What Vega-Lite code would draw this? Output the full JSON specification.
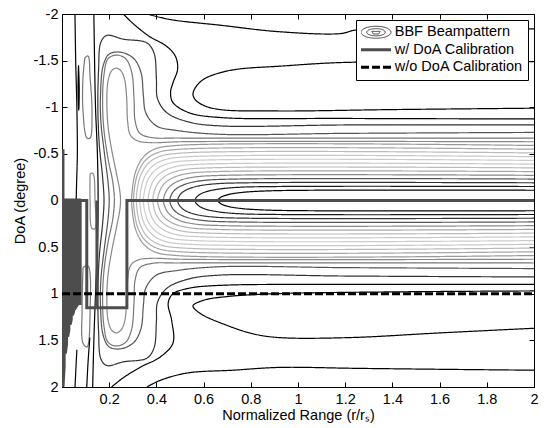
{
"$schema": "https://vega.github.io/schema/vega-lite/v6.json",
"width": 472, "height": 373,
"autosize": {"type": "none"},
"padding": {"left": 62, "top": 14, "right": 11, "bottom": 41},
"background": "white",
"config": {
 "view": {"stroke": "black", "strokeWidth": 1},
 "font": "Liberation Sans",
 "axis": {"labelFont": "Liberation Sans", "labelFontSize": 14.5, "labelColor": "black", "titleFont": "Liberation Sans", "titleFontSize": 14.5, "titleFontWeight": "normal", "titleColor": "black", "domainColor": "black", "tickColor": "black", "grid": false, "labelFlush": false, "labelOverlap": false}
},
"datasets": {
 "contours": [
{"c":"U1","x":2,"y":-0.11},{"c":"U1","x":1.06,"y":-0.11},{"c":"U1","x":0.86,"y":-0.102},{"c":"U1","x":0.76,"y":-0.086},{"c":"U1","x":0.7,"y":-0.061},{"c":"U1","x":0.672,"y":-0.033},{"c":"U1","x":0.66,"y":0},{"c":"U1","x":0.672,"y":0.033},{"c":"U1","x":0.7,"y":0.061},{"c":"U1","x":0.76,"y":0.086},{"c":"U1","x":0.86,"y":0.102},{"c":"U1","x":1.06,"y":0.11},{"c":"U1","x":2,"y":0.11},
{"c":"U2","x":2,"y":-0.15},{"c":"U2","x":0.913,"y":-0.15},{"c":"U2","x":0.738,"y":-0.14},{"c":"U2","x":0.651,"y":-0.117},{"c":"U2","x":0.598,"y":-0.083},{"c":"U2","x":0.574,"y":-0.045},{"c":"U2","x":0.563,"y":0},{"c":"U2","x":0.574,"y":0.045},{"c":"U2","x":0.598,"y":0.083},{"c":"U2","x":0.651,"y":0.117},{"c":"U2","x":0.738,"y":0.14},{"c":"U2","x":0.913,"y":0.15},{"c":"U2","x":2,"y":0.15},
{"c":"U3","x":2,"y":-0.19},{"c":"U3","x":0.79,"y":-0.19},{"c":"U3","x":0.64,"y":-0.177},{"c":"U3","x":0.565,"y":-0.148},{"c":"U3","x":0.52,"y":-0.105},{"c":"U3","x":0.499,"y":-0.057},{"c":"U3","x":0.49,"y":0},{"c":"U3","x":0.499,"y":0.057},{"c":"U3","x":0.52,"y":0.105},{"c":"U3","x":0.565,"y":0.148},{"c":"U3","x":0.64,"y":0.177},{"c":"U3","x":0.79,"y":0.19},{"c":"U3","x":2,"y":0.19},
{"c":"U4","x":2,"y":-0.23},{"c":"U4","x":0.737,"y":-0.23},{"c":"U4","x":0.597,"y":-0.214},{"c":"U4","x":0.527,"y":-0.179},{"c":"U4","x":0.485,"y":-0.127},{"c":"U4","x":0.465,"y":-0.069},{"c":"U4","x":0.457,"y":0},{"c":"U4","x":0.465,"y":0.069},{"c":"U4","x":0.485,"y":0.127},{"c":"U4","x":0.527,"y":0.179},{"c":"U4","x":0.597,"y":0.214},{"c":"U4","x":0.737,"y":0.23},{"c":"U4","x":2,"y":0.23},
{"c":"U5","x":2,"y":-0.27},{"c":"U5","x":0.69,"y":-0.27},{"c":"U5","x":0.56,"y":-0.251},{"c":"U5","x":0.495,"y":-0.211},{"c":"U5","x":0.456,"y":-0.149},{"c":"U5","x":0.438,"y":-0.081},{"c":"U5","x":0.43,"y":0},{"c":"U5","x":0.438,"y":0.081},{"c":"U5","x":0.456,"y":0.149},{"c":"U5","x":0.495,"y":0.211},{"c":"U5","x":0.56,"y":0.251},{"c":"U5","x":0.69,"y":0.27},{"c":"U5","x":2,"y":0.27},
{"c":"U6","x":2,"y":-0.31},{"c":"U6","x":0.655,"y":-0.31},{"c":"U6","x":0.53,"y":-0.288},{"c":"U6","x":0.468,"y":-0.242},{"c":"U6","x":0.43,"y":-0.171},{"c":"U6","x":0.413,"y":-0.093},{"c":"U6","x":0.405,"y":0},{"c":"U6","x":0.413,"y":0.093},{"c":"U6","x":0.43,"y":0.171},{"c":"U6","x":0.468,"y":0.242},{"c":"U6","x":0.53,"y":0.288},{"c":"U6","x":0.655,"y":0.31},{"c":"U6","x":2,"y":0.31},
{"c":"U7","x":2,"y":-0.35},{"c":"U7","x":0.625,"y":-0.35},{"c":"U7","x":0.505,"y":-0.326},{"c":"U7","x":0.445,"y":-0.273},{"c":"U7","x":0.409,"y":-0.193},{"c":"U7","x":0.392,"y":-0.105},{"c":"U7","x":0.385,"y":0},{"c":"U7","x":0.392,"y":0.105},{"c":"U7","x":0.409,"y":0.193},{"c":"U7","x":0.445,"y":0.273},{"c":"U7","x":0.505,"y":0.326},{"c":"U7","x":0.625,"y":0.35},{"c":"U7","x":2,"y":0.35},
{"c":"U8","x":2,"y":-0.39},{"c":"U8","x":0.595,"y":-0.39},{"c":"U8","x":0.48,"y":-0.363},{"c":"U8","x":0.423,"y":-0.304},{"c":"U8","x":0.388,"y":-0.215},{"c":"U8","x":0.372,"y":-0.117},{"c":"U8","x":0.365,"y":0},{"c":"U8","x":0.372,"y":0.117},{"c":"U8","x":0.388,"y":0.215},{"c":"U8","x":0.423,"y":0.304},{"c":"U8","x":0.48,"y":0.363},{"c":"U8","x":0.595,"y":0.39},{"c":"U8","x":2,"y":0.39},
{"c":"U9","x":2,"y":-0.43},{"c":"U9","x":0.565,"y":-0.43},{"c":"U9","x":0.455,"y":-0.4},{"c":"U9","x":0.4,"y":-0.335},{"c":"U9","x":0.367,"y":-0.237},{"c":"U9","x":0.352,"y":-0.129},{"c":"U9","x":0.345,"y":0},{"c":"U9","x":0.352,"y":0.129},{"c":"U9","x":0.367,"y":0.237},{"c":"U9","x":0.4,"y":0.335},{"c":"U9","x":0.455,"y":0.4},{"c":"U9","x":0.565,"y":0.43},{"c":"U9","x":2,"y":0.43},
{"c":"U10","x":2,"y":-0.47},{"c":"U10","x":0.54,"y":-0.47},{"c":"U10","x":0.435,"y":-0.437},{"c":"U10","x":0.383,"y":-0.367},{"c":"U10","x":0.351,"y":-0.259},{"c":"U10","x":0.336,"y":-0.141},{"c":"U10","x":0.33,"y":0},{"c":"U10","x":0.336,"y":0.141},{"c":"U10","x":0.351,"y":0.259},{"c":"U10","x":0.383,"y":0.367},{"c":"U10","x":0.435,"y":0.437},{"c":"U10","x":0.54,"y":0.47},{"c":"U10","x":2,"y":0.47},
{"c":"U11","x":2,"y":-0.51},{"c":"U11","x":0.515,"y":-0.51},{"c":"U11","x":0.415,"y":-0.474},{"c":"U11","x":0.365,"y":-0.398},{"c":"U11","x":0.335,"y":-0.281},{"c":"U11","x":0.321,"y":-0.153},{"c":"U11","x":0.315,"y":0},{"c":"U11","x":0.321,"y":0.153},{"c":"U11","x":0.335,"y":0.281},{"c":"U11","x":0.365,"y":0.398},{"c":"U11","x":0.415,"y":0.474},{"c":"U11","x":0.515,"y":0.51},{"c":"U11","x":2,"y":0.51},
{"c":"U12","x":2,"y":-0.55},{"c":"U12","x":0.503,"y":-0.55},{"c":"U12","x":0.403,"y":-0.512},{"c":"U12","x":0.353,"y":-0.429},{"c":"U12","x":0.323,"y":-0.303},{"c":"U12","x":0.309,"y":-0.165},{"c":"U12","x":0.303,"y":0},{"c":"U12","x":0.309,"y":0.165},{"c":"U12","x":0.323,"y":0.303},{"c":"U12","x":0.353,"y":0.429},{"c":"U12","x":0.403,"y":0.512},{"c":"U12","x":0.503,"y":0.55},{"c":"U12","x":2,"y":0.55},
{"c":"U13","x":2,"y":-0.59},{"c":"U13","x":0.485,"y":-0.59},{"c":"U13","x":0.39,"y":-0.549},{"c":"U13","x":0.343,"y":-0.46},{"c":"U13","x":0.314,"y":-0.325},{"c":"U13","x":0.301,"y":-0.177},{"c":"U13","x":0.295,"y":0},{"c":"U13","x":0.301,"y":0.177},{"c":"U13","x":0.314,"y":0.325},{"c":"U13","x":0.343,"y":0.46},{"c":"U13","x":0.39,"y":0.549},{"c":"U13","x":0.485,"y":0.59},{"c":"U13","x":2,"y":0.59},
{"c":"Ca","x":2,"y":-0.63},{"c":"Ca","x":0.5,"y":-0.63},{"c":"Ca","x":0.38,"y":-0.62},{"c":"Ca","x":0.32,"y":-0.64},{"c":"Ca","x":0.29,"y":-0.7},{"c":"Ca","x":0.278,"y":-0.85},{"c":"Ca","x":0.274,"y":-1.1},{"c":"Ca","x":0.265,"y":-1.3},{"c":"Ca","x":0.25,"y":-1.39},{"c":"Ca","x":0.23,"y":-1.42},{"c":"Ca","x":0.21,"y":-1.39},{"c":"Ca","x":0.195,"y":-1.28},{"c":"Ca","x":0.19,"y":-1.05},{"c":"Ca","x":0.195,"y":-0.8},{"c":"Ca","x":0.21,"y":-0.55},{"c":"Ca","x":0.23,"y":-0.3},{"c":"Ca","x":0.245,"y":-0.1},{"c":"Ca","x":0.248,"y":0},{"c":"Ca","x":0.245,"y":0.1},{"c":"Ca","x":0.23,"y":0.3},{"c":"Ca","x":0.21,"y":0.55},{"c":"Ca","x":0.195,"y":0.8},{"c":"Ca","x":0.19,"y":1.05},{"c":"Ca","x":0.195,"y":1.28},{"c":"Ca","x":0.21,"y":1.39},{"c":"Ca","x":0.23,"y":1.42},{"c":"Ca","x":0.25,"y":1.39},{"c":"Ca","x":0.265,"y":1.3},{"c":"Ca","x":0.274,"y":1.1},{"c":"Ca","x":0.278,"y":0.85},{"c":"Ca","x":0.29,"y":0.7},{"c":"Ca","x":0.32,"y":0.64},{"c":"Ca","x":0.38,"y":0.62},{"c":"Ca","x":0.5,"y":0.63},{"c":"Ca","x":2,"y":0.63},
{"c":"Cb","x":2,"y":-0.67},{"c":"Cb","x":0.5,"y":-0.67},{"c":"Cb","x":0.38,"y":-0.675},{"c":"Cb","x":0.33,"y":-0.72},{"c":"Cb","x":0.31,"y":-0.85},{"c":"Cb","x":0.305,"y":-1.1},{"c":"Cb","x":0.295,"y":-1.38},{"c":"Cb","x":0.27,"y":-1.52},{"c":"Cb","x":0.23,"y":-1.56},{"c":"Cb","x":0.195,"y":-1.52},{"c":"Cb","x":0.178,"y":-1.35},{"c":"Cb","x":0.172,"y":-1.05},{"c":"Cb","x":0.178,"y":-0.75},{"c":"Cb","x":0.195,"y":-0.45},{"c":"Cb","x":0.215,"y":-0.2},{"c":"Cb","x":0.222,"y":0},{"c":"Cb","x":0.215,"y":0.2},{"c":"Cb","x":0.195,"y":0.45},{"c":"Cb","x":0.178,"y":0.75},{"c":"Cb","x":0.172,"y":1.05},{"c":"Cb","x":0.178,"y":1.35},{"c":"Cb","x":0.195,"y":1.52},{"c":"Cb","x":0.23,"y":1.56},{"c":"Cb","x":0.27,"y":1.52},{"c":"Cb","x":0.295,"y":1.38},{"c":"Cb","x":0.305,"y":1.1},{"c":"Cb","x":0.31,"y":0.85},{"c":"Cb","x":0.33,"y":0.72},{"c":"Cb","x":0.38,"y":0.675},{"c":"Cb","x":0.5,"y":0.67},{"c":"Cb","x":2,"y":0.67},
{"c":"Cc","x":2,"y":-0.73},{"c":"Cc","x":1.2,"y":-0.72},{"c":"Cc","x":0.67,"y":-0.71},{"c":"Cc","x":0.49,"y":-0.75},{"c":"Cc","x":0.4,"y":-0.8},{"c":"Cc","x":0.355,"y":-0.94},{"c":"Cc","x":0.345,"y":-1.12},{"c":"Cc","x":0.335,"y":-1.37},{"c":"Cc","x":0.305,"y":-1.52},{"c":"Cc","x":0.25,"y":-1.59},{"c":"Cc","x":0.2,"y":-1.57},{"c":"Cc","x":0.175,"y":-1.45},{"c":"Cc","x":0.163,"y":-1.12},{"c":"Cc","x":0.165,"y":-0.84},{"c":"Cc","x":0.18,"y":-0.5},{"c":"Cc","x":0.195,"y":-0.2},{"c":"Cc","x":0.2,"y":0},{"c":"Cc","x":0.195,"y":0.2},{"c":"Cc","x":0.18,"y":0.5},{"c":"Cc","x":0.165,"y":0.84},{"c":"Cc","x":0.163,"y":1.12},{"c":"Cc","x":0.175,"y":1.45},{"c":"Cc","x":0.2,"y":1.57},{"c":"Cc","x":0.25,"y":1.59},{"c":"Cc","x":0.305,"y":1.52},{"c":"Cc","x":0.335,"y":1.37},{"c":"Cc","x":0.345,"y":1.12},{"c":"Cc","x":0.355,"y":0.94},{"c":"Cc","x":0.4,"y":0.8},{"c":"Cc","x":0.49,"y":0.75},{"c":"Cc","x":0.67,"y":0.71},{"c":"Cc","x":1.2,"y":0.72},{"c":"Cc","x":2,"y":0.73},
{"c":"Cd","x":2,"y":-0.81},{"c":"Cd","x":1.2,"y":-0.81},{"c":"Cd","x":0.67,"y":-0.8},{"c":"Cd","x":0.54,"y":-0.84},{"c":"Cd","x":0.445,"y":-0.94},{"c":"Cd","x":0.405,"y":-1.09},{"c":"Cd","x":0.4,"y":-1.3},{"c":"Cd","x":0.39,"y":-1.58},{"c":"Cd","x":0.36,"y":-1.69},{"c":"Cd","x":0.26,"y":-1.73},{"c":"Cd","x":0.19,"y":-1.77},{"c":"Cd","x":0.165,"y":-1.7},{"c":"Cd","x":0.155,"y":-1.4},{"c":"Cd","x":0.152,"y":-1.0},{"c":"Cd","x":0.158,"y":-0.6},{"c":"Cd","x":0.172,"y":-0.25},{"c":"Cd","x":0.178,"y":0},{"c":"Cd","x":0.172,"y":0.25},{"c":"Cd","x":0.158,"y":0.6},{"c":"Cd","x":0.152,"y":1.0},{"c":"Cd","x":0.155,"y":1.4},{"c":"Cd","x":0.165,"y":1.7},{"c":"Cd","x":0.19,"y":1.77},{"c":"Cd","x":0.26,"y":1.73},{"c":"Cd","x":0.36,"y":1.69},{"c":"Cd","x":0.39,"y":1.58},{"c":"Cd","x":0.4,"y":1.3},{"c":"Cd","x":0.405,"y":1.09},{"c":"Cd","x":0.445,"y":0.94},{"c":"Cd","x":0.54,"y":0.84},{"c":"Cd","x":0.67,"y":0.8},{"c":"Cd","x":1.2,"y":0.81},{"c":"Cd","x":2,"y":0.82},
{"c":"G","x":0.26,"y":-2},{"c":"G","x":0.3,"y":-1.9},{"c":"G","x":0.37,"y":-1.76},{"c":"G","x":0.44,"y":-1.66},{"c":"G","x":0.48,"y":-1.55},{"c":"G","x":0.49,"y":-1.41},{"c":"G","x":0.47,"y":-1.26},{"c":"G","x":0.46,"y":-1.16},{"c":"G","x":0.47,"y":-1.05},{"c":"G","x":0.54,"y":-0.94},{"c":"G","x":0.67,"y":-0.89},{"c":"G","x":1.2,"y":-0.88},{"c":"G","x":2,"y":-0.875},
{"c":"Gp","x":2,"y":0.9},{"c":"Gp","x":1.2,"y":0.9},{"c":"Gp","x":0.67,"y":0.91},{"c":"Gp","x":0.54,"y":0.94},{"c":"Gp","x":0.47,"y":1.0},{"c":"Gp","x":0.45,"y":1.1},{"c":"Gp","x":0.465,"y":1.29},{"c":"Gp","x":0.47,"y":1.53},{"c":"Gp","x":0.415,"y":1.68},{"c":"Gp","x":0.33,"y":1.79},{"c":"Gp","x":0.26,"y":1.9},{"c":"Gp","x":0.21,"y":2},
{"c":"S","x":2,"y":-1.49},{"c":"S","x":1.19,"y":-1.48},{"c":"S","x":0.92,"y":-1.44},{"c":"S","x":0.75,"y":-1.41},{"c":"S","x":0.67,"y":-1.37},{"c":"S","x":0.6,"y":-1.3},{"c":"S","x":0.565,"y":-1.21},{"c":"S","x":0.555,"y":-1.14},{"c":"S","x":0.565,"y":-1.08},{"c":"S","x":0.6,"y":-1.02},{"c":"S","x":0.67,"y":-0.975},{"c":"S","x":0.92,"y":-0.96},{"c":"S","x":1.4,"y":-0.975},{"c":"S","x":2,"y":-0.99},
{"c":"Sp","x":2,"y":0.97},{"c":"Sp","x":1.4,"y":0.98},{"c":"Sp","x":0.9,"y":1.0},{"c":"Sp","x":0.7,"y":1.03},{"c":"Sp","x":0.6,"y":1.07},{"c":"Sp","x":0.555,"y":1.13},{"c":"Sp","x":0.585,"y":1.21},{"c":"Sp","x":0.7,"y":1.34},{"c":"Sp","x":0.81,"y":1.43},{"c":"Sp","x":0.92,"y":1.47},{"c":"Sp","x":1.22,"y":1.47},{"c":"Sp","x":1.6,"y":1.42},{"c":"Sp","x":2,"y":1.37},
{"c":"D","x":0.36,"y":-2},{"c":"D","x":0.46,"y":-1.94},{"c":"D","x":0.67,"y":-1.88},{"c":"D","x":0.92,"y":-1.81},{"c":"D","x":1.18,"y":-1.79},{"c":"D","x":1.25,"y":-1.83},{"c":"D","x":2,"y":-1.84},
{"c":"Dp","x":0.36,"y":2},{"c":"Dp","x":0.415,"y":1.93},{"c":"Dp","x":0.53,"y":1.85},{"c":"Dp","x":0.725,"y":1.82},{"c":"Dp","x":0.92,"y":1.79},{"c":"Dp","x":1.25,"y":1.8},{"c":"Dp","x":1.6,"y":1.81},{"c":"Dp","x":2,"y":1.82},
{"c":"V0","x":0.055,"y":-2},{"c":"V0","x":0.058,"y":-1.5},{"c":"V0","x":0.063,"y":-1.0},{"c":"V0","x":0.065,"y":-0.5},{"c":"V0","x":0.062,"y":-0.2},{"c":"V0","x":0.06,"y":0},
{"c":"L0","x":0.07,"y":-1.45},{"c":"L0","x":0.073,"y":-1.2},{"c":"L0","x":0.071,"y":-0.97},{"c":"L0","x":0.068,"y":-1.2},{"c":"L0","x":0.07,"y":-1.45},
{"c":"E1","x":0.097,"y":-1.53},{"c":"E1","x":0.11,"y":-1.55},{"c":"E1","x":0.119,"y":-1.32},{"c":"E1","x":0.127,"y":-0.96},{"c":"E1","x":0.119,"y":-0.67},{"c":"E1","x":0.106,"y":-0.67},{"c":"E1","x":0.089,"y":-0.96},{"c":"E1","x":0.089,"y":-1.32},{"c":"E1","x":0.097,"y":-1.53},
{"c":"E2","x":0.089,"y":0.72},{"c":"E2","x":0.11,"y":0.7},{"c":"E2","x":0.119,"y":1.18},{"c":"E2","x":0.106,"y":1.57},{"c":"E2","x":0.089,"y":1.53},{"c":"E2","x":0.085,"y":1.18},{"c":"E2","x":0.089,"y":0.72},
{"c":"E0","x":0.119,"y":-0.29},{"c":"E0","x":0.131,"y":-0.29},{"c":"E0","x":0.14,"y":0},{"c":"E0","x":0.14,"y":0.3},{"c":"E0","x":0.127,"y":0.3},{"c":"E0","x":0.119,"y":0},{"c":"E0","x":0.119,"y":-0.29},
{"c":"V1","x":0.135,"y":-2},{"c":"V1","x":0.138,"y":-1.5},{"c":"V1","x":0.142,"y":-1.0},{"c":"V1","x":0.15,"y":-0.5},{"c":"V1","x":0.153,"y":0},{"c":"V1","x":0.15,"y":0.5},{"c":"V1","x":0.142,"y":1.0},{"c":"V1","x":0.135,"y":1.5},{"c":"V1","x":0.13,"y":2},
{"c":"B1","x":0.063,"y":1.6},{"c":"B1","x":0.055,"y":2},
{"c":"B2","x":0.118,"y":1.47},{"c":"B2","x":0.11,"y":1.75},{"c":"B2","x":0.105,"y":2}
 ],
 "calblock": [
{"x":0.002,"y":-0.55},{"x":0.002,"y":2},{"x":0.007,"y":1.78},{"x":0.007,"y":0},{"x":0.012,"y":0},{"x":0.012,"y":1.64},{"x":0.017,"y":1.54},{"x":0.017,"y":0},{"x":0.022,"y":0},{"x":0.022,"y":1.46},{"x":0.027,"y":1.39},{"x":0.027,"y":0},{"x":0.032,"y":0},{"x":0.032,"y":1.33},{"x":0.037,"y":1.28},{"x":0.037,"y":0},{"x":0.042,"y":0},{"x":0.042,"y":1.23},{"x":0.047,"y":1.19},{"x":0.047,"y":0},{"x":0.052,"y":0},{"x":0.052,"y":1.16},{"x":0.057,"y":1.14},{"x":0.057,"y":0},{"x":0.062,"y":0},{"x":0.062,"y":1.12},{"x":0.067,"y":1.1},{"x":0.067,"y":0},{"x":0.072,"y":0},{"x":0.072,"y":1.1},{"x":0.075,"y":1.1},{"x":0.075,"y":0}
 ],
 "cal": [
{"x":0.075,"y":0},{"x":0.105,"y":0},{"x":0.105,"y":1.15},{"x":0.148,"y":1.15},{"x":0.148,"y":0},{"x":0.148,"y":1.15},{"x":0.275,"y":1.15},{"x":0.275,"y":0},{"x":2,"y":0}
 ],
 "nocal": [{"x":0,"y":1},{"x":2,"y":1}]
},
"layer": [
 {
  "data": {"name": "contours"},
  "mark": {"type": "line", "interpolate": "catmull-rom", "strokeWidth": 1.2, "clip": true},
  "encoding": {
   "x": {"field": "x", "type": "quantitative", "scale": {"domain": [0, 2], "nice": false, "zero": false},
         "axis": {"orient": "bottom", "values": [0.2,0.4,0.6,0.8,1,1.2,1.4,1.6,1.8,2], "labelExpr": "'' + datum.value", "tickSize": -5, "labelPadding": 10, "title": "Normalized Range (r/rₛ)", "titlePadding": 3}},
   "y": {"field": "y", "type": "quantitative", "scale": {"domain": [-2, 2], "reverse": true, "nice": false, "zero": false},
         "axis": {"orient": "left", "values": [-2,-1.5,-1,-0.5,0,0.5,1,1.5,2], "labelExpr": "'' + datum.value", "tickSize": -5, "labelPadding": 9, "title": "DoA (degree)", "titlePadding": 6}},
   "color": {"field": "c", "type": "nominal", "legend": null,
     "scale": {"domain": ["U1","U2","U3","U4","U5","U6","U7","U8","U9","U10","U11","U12","U13","Ca","Cb","Cc","Cd","G","Gp","S","Sp","D","Dp","V0","L0","E1","E2","E0","V1","B1","B2"],
               "range": ["#000000","#1a1a1a","#333333","#555555","#888888","#a6a6a6","#bbbbbb","#c8c8c8","#cccccc","#c8c8c8","#bbbbbb","#a6a6a6","#999999","#888888","#777777","#555555","#333333","#000000","#000000","#000000","#000000","#000000","#000000","#000000","#000000","#777777","#777777","#888888","#000000","#000000","#000000"]}},
   "strokeDash": {"datum": "BBF Beampattern", "type": "nominal",
     "scale": {"domain": ["BBF Beampattern", "w/ DoA Calibration", "w/o DoA Calibration"], "range": [[1,0],[1,0],[8,3]]},
     "legend": {"title": null, "orient": "top-right", "offset": 6, "fillColor": "white", "strokeColor": "black", "padding": 5,
        "symbolType": "stroke", "symbolSize": 900, "clipHeight": 14.5, "rowPadding": 1.5, "symbolStrokeWidth": 3, "symbolOffset": 7.75,
        "labelFont": "Liberation Sans", "labelFontSize": 14.5, "labelColor": "black", "labelOffset": 11.5, "labelLimit": 250,
        "encode": {"symbols": {"update": {
           "shape": {"signal": "datum.value === 'BBF Beampattern' ? 'M-1,0A1,0.4,0,1,1,1,0A1,0.4,0,1,1,-1,0Z M-0.62,0A0.62,0.24,0,1,1,0.62,0A0.62,0.24,0,1,1,-0.62,0Z M-0.28,-0.06L0.28,-0.06L0.18,0.12L-0.18,0.12Z' : 'stroke'"},
           "stroke": {"signal": "datum.value === 'w/o DoA Calibration' ? '#000000' : (datum.value === 'w/ DoA Calibration' ? '#4d4d4d' : '#444444')"},
           "strokeWidth": {"signal": "datum.value === 'BBF Beampattern' ? 1 : 3"},
           "strokeDash": {"signal": "datum.value === 'w/o DoA Calibration' ? [5, 2.6] : [1, 0]"},
           "fill": {"value": "transparent"},
           "opacity": {"value": 1}}}}}},
   "order": {"value": null}
  }
 },
 {
  "data": {"name": "calblock"},
  "mark": {"type": "line", "color": "#4d4d4d", "strokeWidth": 4, "clip": true},
  "encoding": {
   "x": {"field": "x", "type": "quantitative", "scale": {"domain": [0, 2], "nice": false, "zero": false}, "axis": null},
   "y": {"field": "y", "type": "quantitative", "scale": {"domain": [-2, 2], "reverse": true, "nice": false, "zero": false}, "axis": null},
   "strokeDash": {"datum": "w/ DoA Calibration", "type": "nominal"},
   "order": {"value": null}
  }
 },
 {
  "data": {"name": "cal"},
  "mark": {"type": "line", "color": "#4d4d4d", "strokeWidth": 3, "clip": true},
  "encoding": {
   "x": {"field": "x", "type": "quantitative", "scale": {"domain": [0, 2], "nice": false, "zero": false},
         "axis": {"orient": "top", "values": [0.2,0.4,0.6,0.8,1,1.2,1.4,1.6,1.8,2], "labels": false, "tickSize": -5, "title": null}},
   "y": {"field": "y", "type": "quantitative", "scale": {"domain": [-2, 2], "reverse": true, "nice": false, "zero": false},
         "axis": {"orient": "right", "values": [-2,-1.5,-1,-0.5,0,0.5,1,1.5,2], "labels": false, "tickSize": -5, "title": null}},
   "strokeDash": {"datum": "w/ DoA Calibration", "type": "nominal"},
   "order": {"value": null}
  }
 },
 {
  "data": {"name": "nocal"},
  "mark": {"type": "line", "color": "#000000", "strokeWidth": 3, "clip": true},
  "encoding": {
   "x": {"field": "x", "type": "quantitative", "scale": {"domain": [0, 2], "nice": false, "zero": false}, "axis": null},
   "y": {"field": "y", "type": "quantitative", "scale": {"domain": [-2, 2], "reverse": true, "nice": false, "zero": false}, "axis": null},
   "strokeDash": {"datum": "w/o DoA Calibration", "type": "nominal"}
  }
 }
],
"resolve": {"axis": {"x": "independent", "y": "independent"}}
}
